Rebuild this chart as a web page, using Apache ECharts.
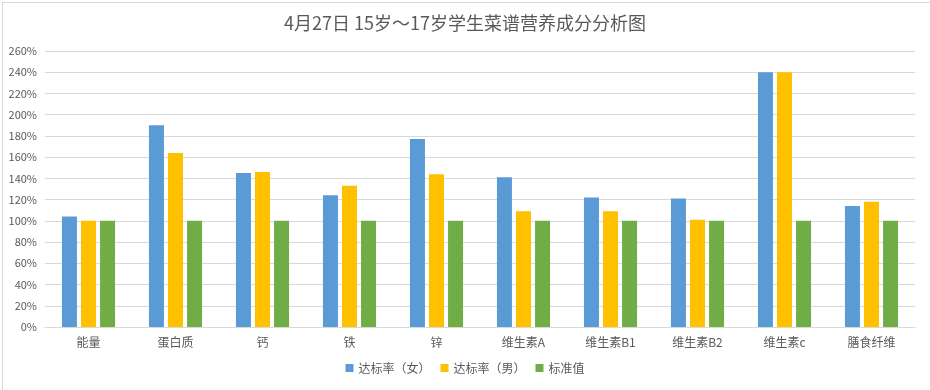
<!DOCTYPE html>
<html>
<head>
<meta charset="utf-8">
<script src="https://cdn.jsdelivr.net/npm/echarts@6/dist/echarts.min.js"></script>
<style>html,body{margin:0;padding:0;background:#fff}#c{width:930px;height:390px}</style>
</head>
<body>
<div id="c"></div>
<script>
var titleText = '4月27日 15岁～17岁学生菜谱营养成分分析图';
var categories = ['能量', '蛋白质', '钙', '铁', '锌', '维生素A', '维生素B1', '维生素B2', '维生素c', '膳食纤维'];
var seriesNames = ['达标率（女）', '达标率（男）', '标准值'];
var femaleRate = [104, 190, 145, 124, 177, 141, 122, 121, 240, 114];
var maleRate = [100, 164, 146, 133, 144, 109, 109, 101, 240, 118];
var standard = [100, 100, 100, 100, 100, 100, 100, 100, 100, 100];
var colors = ['#5b9bd5', '#ffc000', '#70ad47'];

var font = '"Noto Sans CJK SC", "Noto Sans", sans-serif';
var chart = echarts.init(document.getElementById('c'));
var dataSets = [femaleRate, maleRate, standard];
chart.setOption({
  animation: false,
  textStyle: { fontFamily: font },
  graphic: [{ type: 'rect', left: 0, top: 0, shape: { width: 929, height: 389 }, style: { fill: 'none', stroke: '#d9d9d9', lineWidth: 1 }, silent: true }],
  title: { text: titleText, left: 'center', top: 9, textStyle: { fontSize: 18, fontWeight: 'normal', color: '#595959', fontFamily: font } },
  legend: { bottom: 11, itemWidth: 8, itemHeight: 8, itemGap: 10, icon: 'rect', textStyle: { fontSize: 12, color: '#595959', fontFamily: font }, data: seriesNames },
  grid: { left: 45, right: 15, top: 51, bottom: 63, containLabel: false },
  xAxis: { type: 'category', data: categories, axisTick: { show: false }, axisLine: { lineStyle: { color: '#d9d9d9' } }, axisLabel: { fontSize: 12, color: '#595959', margin: 9 } },
  yAxis: { type: 'value', min: 0, max: 260, interval: 20, axisLabel: { formatter: '{value}%', fontSize: 11, color: '#595959', margin: 8 }, splitLine: { lineStyle: { color: '#d9d9d9' } }, axisLine: { show: false }, axisTick: { show: false } },
  series: seriesNames.map(function (n, i) {
    return { name: n, type: 'bar', data: dataSets[i], barWidth: 15, barGap: '27%', itemStyle: { color: colors[i] } };
  })
});
</script>
</body>
</html>
